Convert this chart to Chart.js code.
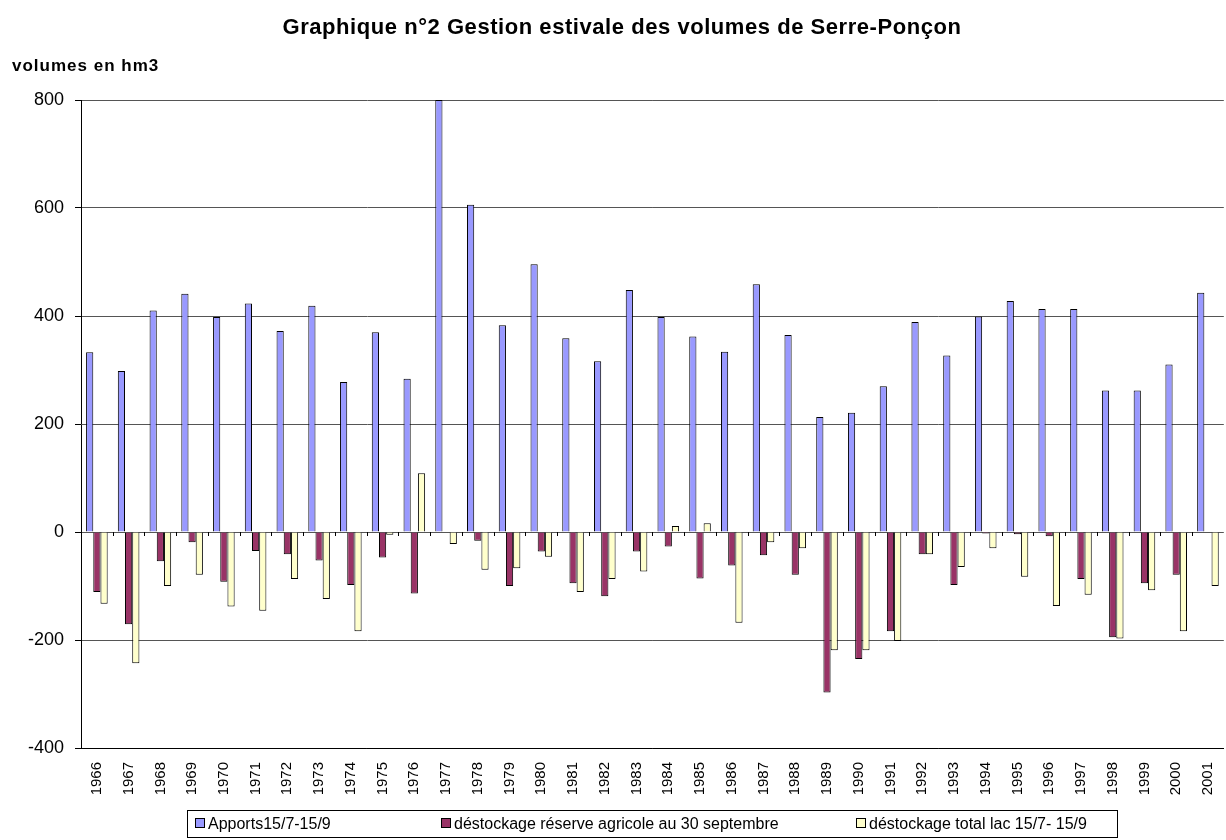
<!DOCTYPE html>
<html>
<head>
<meta charset="utf-8">
<script src="https://cdn.jsdelivr.net/npm/chart.js@4.4.1/dist/chart.umd.min.js"></script>
<style>
  html, body { margin: 0; padding: 0; background: #fff; }
  body { width: 1226px; height: 840px; overflow: hidden; position: relative; font-family: "Liberation Sans", Arial, sans-serif; }
  #wrap { position: absolute; left: 0; top: 0; width: 1240px; height: 840px; }
  #title { position: absolute; top: 14px; left: 0; width: 1244px; text-align: center; font-weight: bold; font-size: 22px; letter-spacing: 0.55px; color: #000; }
  #ylab { position: absolute; left: 12px; top: 56px; font-weight: bold; font-size: 17px; letter-spacing: 1px; color: #000; }
  #legend { position: absolute; left: 187px; top: 810px; width: 931px; height: 28px; border: 1px solid #000; box-sizing: border-box; font-size: 16px; }
  .item { position: absolute; top: 3px; white-space: nowrap; line-height: 20px; }
  .item span.box { display: inline-block; width: 8px; height: 8px; border: 1px solid #000; margin-right: 3px; vertical-align: 1px; }
</style>
</head>
<body>
<div id="wrap"><canvas id="chart"></canvas></div>
<div id="title">Graphique n°2 Gestion estivale des volumes de Serre-Ponçon</div>
<div id="ylab">volumes en hm3</div>
<div id="legend"></div>
<script>
// années
const years = ['1966','1967','1968','1969','1970','1971','1972','1973','1974','1975','1976','1977',
  '1978','1979','1980','1981','1982','1983','1984','1985','1986','1987','1988','1989',
  '1990','1991','1992','1993','1994','1995','1996','1997','1998','1999','2000','2001'];

// Apports 15/7-15/9 (hm3)
const apports = [333, 298, 410, 441, 398, 423, 372, 419, 278, 370, 284, 800,
  606, 383, 496, 359, 316, 448, 398, 362, 334, 459, 365, 213,
  221, 270, 389, 327, 399, 428, 413, 413, 262, 262, 310, 443];

// déstockage réserve agricole au 30 septembre
const reserveAgricole = [-111, -171, -54, -19, -92, -35, -41, -53, -98, -47, -114, 0,
  -16, -100, -36, -95, -119, -36, -27, -86, -62, -43, -79, -297,
  -235, -184, -41, -98, -3, -4, -8, -87, -195, -95, -79, 0];

// déstockage total lac 15/7-15/9
const totalLac = [-133, -243, -100, -79, -138, -146, -87, -124, -184, -5, 109, -22,
  -70, -67, -46, -111, -87, -73, 11, 16, -168, -19, -30, -219,
  -219, -202, -41, -65, -30, -83, -137, -116, -197, -108, -184, -100];

const yTicks = [-400, -200, 0, 200, 400, 600, 800];

const seriesNames = ['Apports15/7-15/9', 'déstockage réserve agricole au 30 septembre', 'déstockage total lac 15/7- 15/9'];
const seriesColors = ['#9999ff', '#993366', '#ffffcc'];

const FONT = '"Liberation Sans", Arial, sans-serif';

// petits traits sur la ligne du zéro, entre les catégories
const zeroTicks = {
  id: 'zeroTicks',
  afterDatasetsDraw(chart) {
    const { ctx, scales: { x, y } } = chart;
    const y0 = y.getPixelForValue(0);
    const step = (x.right - x.left) / years.length;
    ctx.save();
    ctx.strokeStyle = '#000';
    ctx.lineWidth = 1;
    ctx.beginPath();
    for (let i = 1; i < years.length; i++) {
      const px = Math.round(x.left + i * step) + 0.5;
      ctx.moveTo(px, y0);
      ctx.lineTo(px, y0 + 4);
    }
    ctx.stroke();
    ctx.restore();
  }
};

new Chart(document.getElementById('chart'), {
  type: 'bar',
  data: {
    labels: years,
    datasets: [apports, reserveAgricole, totalLac].map((d, i) => ({
      label: seriesNames[i],
      data: d,
      backgroundColor: seriesColors[i],
      borderColor: '#000',
      borderWidth: 1,
      barPercentage: 1.0,
      categoryPercentage: 0.68
    }))
  },
  options: {
    responsive: true,
    maintainAspectRatio: false,
    animation: false,
    layout: { padding: { top: 100, left: 22, right: 4, bottom: 0 } },
    plugins: {
      legend: { display: false },
      title: { display: false },
      tooltip: { enabled: false }
    },
    scales: {
      x: {
        grid: { display: false, drawTicks: false },
        border: { display: true, color: '#000' },
        ticks: {
          autoSkip: false,
          minRotation: 90,
          maxRotation: 90,
          padding: 14,
          color: '#000',
          font: { family: FONT, size: 15 }
        },
        afterFit(scale) { scale.height = 92; }
      },
      y: {
        min: -400,
        max: 800,
        afterBuildTicks(scale) { scale.ticks = yTicks.map(v => ({ value: v })); },
        grid: { color: '#555', lineWidth: 1, tickLength: 6, tickColor: '#000' },
        border: { color: '#000', width: 1 },
        ticks: {
          padding: 11,
          color: '#000',
          font: { family: FONT, size: 18 }
        },
        afterFit(scale) { scale.width = 59; }
      }
    }
  },
  plugins: [zeroTicks]
});

// légende en bas, cadre comme dans Excel
const legendLeft = [7, 253, 668];
const legendEl = document.getElementById('legend');
seriesNames.forEach((name, i) => {
  const it = document.createElement('div');
  it.className = 'item';
  it.style.left = legendLeft[i] + 'px';
  it.innerHTML = '<span class="box" style="background:' + seriesColors[i] + '"></span>' + name;
  legendEl.appendChild(it);
});
</script>
</body>
</html>
